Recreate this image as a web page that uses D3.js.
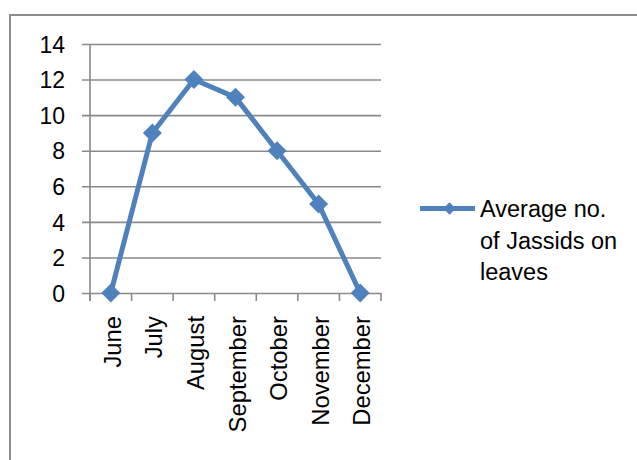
<!DOCTYPE html>
<html>
<head>
<meta charset="utf-8">
<script src="https://cdnjs.cloudflare.com/ajax/libs/d3/7.8.5/d3.min.js"></script>
<style>
  html, body { margin: 0; padding: 0; background: #fff; }
  svg { display: block; }
  text { font-family: "Liberation Sans", Arial, sans-serif; fill: #000; }
</style>
</head>
<body>
<svg id="chart" width="637" height="460"></svg>
<script>
// Monthly average number of jassids counted on leaves
const months = ["June", "July", "August", "September", "October", "November", "December"];
const jassids = [0, 9, 12, 11, 8, 5, 0];
const yTicks = [0, 2, 4, 6, 8, 10, 12, 14];
const legendLines = ["Average no.", "of Jassids on", "leaves"];

const blue = "#4F81BD";
const gridColor = "#8a8a8a";

const svg = d3.select("#chart");

// Outer chart frame
svg.append("path")
  .attr("d", "M10,470 L10,15 L650,15")
  .attr("fill", "none")
  .attr("stroke", "#8c8c8c")
  .attr("stroke-width", 2);

const plot = { left: 90, right: 381, top: 44, bottom: 293 };

const x = d3.scaleBand()
  .domain(months)
  .range([plot.left, plot.right])
  .paddingInner(0)
  .paddingOuter(0);

const y = d3.scaleLinear()
  .domain([0, 14])
  .range([plot.bottom, plot.top]);

// Horizontal gridlines with outside tick marks
const yAxis = svg.append("g")
  .attr("transform", `translate(${plot.left},0)`)
  .call(d3.axisLeft(y).tickValues(yTicks).tickSize(8).tickPadding(17));
yAxis.select(".domain").remove();
yAxis.selectAll(".tick line")
  .attr("x1", plot.right - plot.left)
  .attr("x2", -8)
  .attr("stroke", gridColor)
  .attr("stroke-width", 1.6);
yAxis.selectAll(".tick text")
  .attr("font-size", 23)
  .attr("dy", "0.36em")
  .style("font-family", "'Liberation Sans', Arial, sans-serif");

// Vertical axis line
svg.append("line")
  .attr("x1", plot.left).attr("x2", plot.left)
  .attr("y1", plot.top).attr("y2", plot.bottom + 8)
  .attr("stroke", gridColor)
  .attr("stroke-width", 1.6);

// Category boundary ticks
const bounds = months.map(m => x(m)).concat([x(months[months.length - 1]) + x.bandwidth()]);
svg.append("g").selectAll("line")
  .data(bounds)
  .join("line")
  .attr("x1", d => d).attr("x2", d => d)
  .attr("y1", plot.bottom).attr("y2", plot.bottom + 8)
  .attr("stroke", gridColor)
  .attr("stroke-width", 1.6);

// Rotated month labels
const xAxis = svg.append("g")
  .attr("transform", `translate(0,${plot.bottom})`)
  .call(d3.axisBottom(x).tickSize(0).tickPadding(0));
xAxis.select(".domain").remove();
xAxis.selectAll(".tick text")
  .attr("font-size", 23.8)
  .attr("text-anchor", "end")
  .attr("transform", "translate(1.5,23) rotate(-90)")
  .attr("x", 0)
  .attr("y", 0)
  .attr("dy", "0.36em")
  .style("font-family", "'Liberation Sans', Arial, sans-serif");

// Series line
const line = d3.line()
  .x((d, i) => x(months[i]) + x.bandwidth() / 2)
  .y(d => y(d));

svg.append("path")
  .datum(jassids)
  .attr("d", line)
  .attr("fill", "none")
  .attr("stroke", blue)
  .attr("stroke-width", 5)
  .attr("stroke-linejoin", "round");

// Diamond markers
const diamond = d3.symbol().type(d3.symbolDiamond2).size(230);
svg.append("g").selectAll("path")
  .data(jassids)
  .join("path")
  .attr("d", diamond)
  .attr("transform", (d, i) => `translate(${x(months[i]) + x.bandwidth() / 2},${y(d)})`)
  .attr("fill", blue);

// Legend
const legend = svg.append("g").attr("transform", "translate(420,208.5)");
legend.append("line")
  .attr("x1", 0).attr("x2", 55)
  .attr("y1", 0).attr("y2", 0)
  .attr("stroke", blue)
  .attr("stroke-width", 5);
legend.append("path")
  .attr("d", d3.symbol().type(d3.symbolDiamond2).size(100))
  .attr("transform", "translate(29.5,0)")
  .attr("fill", blue);
legend.selectAll("text.lg")
  .data(legendLines)
  .join("text")
  .attr("class", "lg")
  .attr("x", 60)
  .attr("y", (d, i) => 8.5 + i * 31.7)
  .attr("font-size", 23.5)
  .text(d => d);
</script>
</body>
</html>
